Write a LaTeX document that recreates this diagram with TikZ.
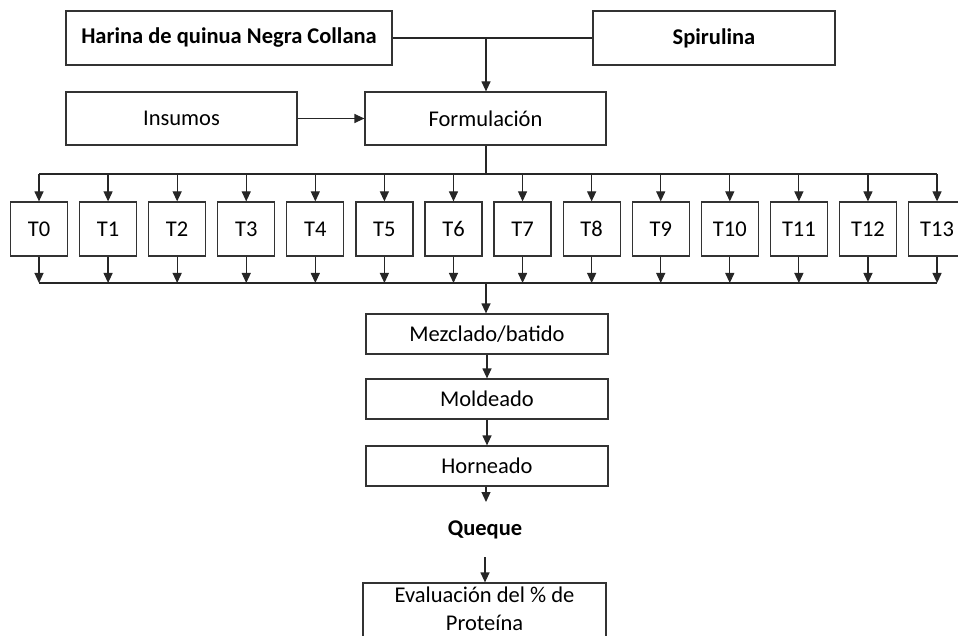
\documentclass[tikz,border=0pt]{standalone}
\usepackage{fontspec}
\setmainfont{Carlito}
\usetikzlibrary{arrows.meta, positioning}

\begin{document}
\begin{tikzpicture}[
    x=1pt, y=-1pt,
    every node/.style={
        font=\fontsize{22.5}{28}\selectfont,
        align=center,
        inner sep=0pt
    },
    box/.style={draw=black!80, line width=1.2pt, fill=white},
    tbox/.style={box, minimum width=57pt, minimum height=54pt, text height=15pt, text depth=0pt},
    stage/.style={box, minimum width=242pt, minimum height=40pt},
    link/.style={line width=1.2pt, draw=black!85},
    arrow/.style={-{Triangle[length=10pt,width=9pt]}, line width=1.2pt, draw=black!85}
]
\useasboundingbox (0,0) rectangle (958,636);

\node[box, minimum width=326pt, minimum height=54pt] (harina) at (229,38)
    {\textbf{Harina de quinua Negra Collana}};
\node[box, minimum width=242pt, minimum height=54pt] (spirulina) at (714,38)
    {\textbf{Spirulina}};
\node[box, minimum width=231pt, minimum height=53pt] (insumos) at (181.5,118.5) {Insumos};
\node[box, minimum width=241pt, minimum height=53pt] (formulacion) at (485.5,118.5) {Formulación};

% tratamientos
\foreach \i in {0,...,13}
    \node[tbox] (t\i) at (39+69.08*\i,229) {T\i};

\node[stage] (mezclado) at (487,334) {Mezclado/batido};
\node[stage] (moldeado) at (487,399) {Moldeado};
\node[stage] (horneado) at (487,466) {Horneado};
\node (queque) at (485,530) {\textbf{Queque}};
\node[box, minimum width=243pt, minimum height=60pt, text depth=9pt] (evaluacion) at (484.5,613)
    {Evaluación del \% de\\Proteína};

\coordinate (union) at (486,38);
\coordinate (reparto) at (486,174);
\coordinate (junta) at (486,283);
\coordinate (salida) at (486,502);
\coordinate (entrada) at (485,557);

\draw[link] (harina) -- (spirulina);
\draw[arrow] (union) -- (union |- formulacion.north);
\draw[arrow] (insumos) -- (formulacion);
\draw[link] (reparto |- formulacion.south) -- (reparto);
\draw[link] (t0.north |- reparto) -- (t13.north |- reparto);
\draw[link] (t0.south |- junta) -- (t13.south |- junta);
\foreach \i in {0,...,13} {
    \draw[arrow] (t\i.north |- reparto) -- (t\i.north);
    \draw[arrow] (t\i.south) -- (t\i.south |- junta);
}
\draw[arrow] (junta) -- (junta |- mezclado.north);
\draw[arrow] (mezclado) -- (moldeado);
\draw[arrow] (moldeado) -- (horneado);
\draw[arrow] (salida |- horneado.south) -- (salida);
\draw[arrow] (entrada) -- (entrada |- evaluacion.north);

\end{tikzpicture}
\end{document}
